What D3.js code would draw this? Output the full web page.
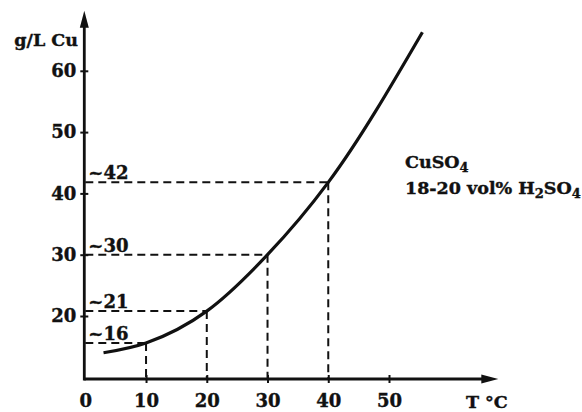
<!DOCTYPE html>
<html>
<head>
<meta charset="utf-8">
<script src="https://cdn.jsdelivr.net/npm/d3@7"></script>
<style>
  body { margin: 0; background: #fff; }
  text { font-family: "DejaVu Serif", "Liberation Serif", serif; font-weight: bold; fill: #111; stroke: #111; stroke-width: 0.4px; }
</style>
</head>
<body>
<div id="chart"></div>
<script>
// chart values
var xTicks = [0, 10, 20, 30, 40, 50];
var yTicks = [20, 30, 40, 50, 60];
var curveT = [3, 10, 20, 30, 40, 55.5];
var curveCu = [14, 15.6, 20.8, 30, 41.8, 66.3];
var markT = [10, 20, 30, 40];
var markCu = [15.6, 20.8, 30, 41.8];
var markLabels = ["~16", "~21", "~30", "~42"];

var svgWidth = 582, svgHeight = 412;

var svg = d3.select("#chart").append("svg")
  .attr("width", svgWidth)
  .attr("height", svgHeight);

// scales
var x = d3.scaleLinear().domain([0, 50]).range([85.3, 389]);
var y = d3.scaleLinear().domain([20, 60]).range([316, 70.8]);

var xAxisMax = 68;            // arrow tip of T axis
var yAxisMin = y.invert(379); // where the T axis crosses
var yAxisMax = 69.8;          // arrow tip of Cu axis

// dashed guide lines
var marks = markT.map((t, i) => ({ t: t, cu: markCu[i], label: markLabels[i] }));

svg.selectAll(".hguide").data(marks).enter().append("line")
  .attr("x1", x(0)).attr("x2", d => x(d.t))
  .attr("y1", d => y(d.cu)).attr("y2", d => y(d.cu))
  .attr("stroke", "#111").attr("stroke-width", 2)
  .attr("stroke-dasharray", "8,5");

svg.selectAll(".vguide").data(marks).enter().append("line")
  .attr("x1", d => x(d.t)).attr("x2", d => x(d.t))
  .attr("y1", d => y(d.cu)).attr("y2", y(yAxisMin))
  .attr("stroke", "#111").attr("stroke-width", 2)
  .attr("stroke-dasharray", "8,5");

svg.selectAll(".mlabel").data(marks).enter().append("text")
  .attr("x", x(0) + 3)
  .attr("y", d => y(d.cu) - 3)
  .attr("font-size", 18)
  .text(d => d.label);

// the curve
var pts = curveT.map((t, i) => [t, curveCu[i]]);
var line = d3.line()
  .x(d => x(d[0]))
  .y(d => y(d[1]))
  .curve(d3.curveMonotoneX);

svg.append("path")
  .datum(pts)
  .attr("d", line)
  .attr("fill", "none")
  .attr("stroke", "#111")
  .attr("stroke-width", 3.2);

// axes lines with arrowheads
var x0 = x(0) - 1, yBase = y(yAxisMin);
svg.append("line")
  .attr("x1", x0).attr("x2", x(xAxisMax) - 10)
  .attr("y1", yBase).attr("y2", yBase)
  .attr("stroke", "#111").attr("stroke-width", 2.8);
svg.append("line")
  .attr("x1", x0).attr("x2", x0)
  .attr("y1", yBase + 1.4).attr("y2", y(yAxisMax) + 10)
  .attr("stroke", "#111").attr("stroke-width", 2.8);

var tipX = x(xAxisMax), tipY = y(yAxisMax);
svg.append("path")
  .attr("d", `M${tipX},${yBase} L${tipX - 17},${yBase - 4.5} L${tipX - 17},${yBase + 4.5} Z`)
  .attr("fill", "#111");
svg.append("path")
  .attr("d", `M${x0},${tipY} L${x0 - 4.5},${tipY + 17} L${x0 + 4.5},${tipY + 17} Z`)
  .attr("fill", "#111");

// tick marks (small crosses) and labels
var leftAxis = d3.axisLeft(y).tickValues(yTicks).tickSize(4).tickPadding(4);
var gy = svg.append("g")
  .attr("transform", `translate(${x0},0)`)
  .call(leftAxis);
gy.select(".domain").remove();
gy.selectAll("line").attr("x1", 4).attr("stroke", "#111").attr("stroke-width", 2);
gy.selectAll("text").attr("font-size", 18);
gy.attr("font-family", null).attr("font-size", null);

var bottomAxis = d3.axisBottom(x).tickValues(xTicks).tickSize(4).tickPadding(11);
var gx = svg.append("g")
  .attr("transform", `translate(0,${yBase})`)
  .call(bottomAxis);
gx.select(".domain").remove();
gx.selectAll("line").attr("y1", -4).attr("stroke", "#111").attr("stroke-width", 2)
  .filter(d => d === 0).remove();
gx.selectAll("text").attr("font-size", 18);
gx.attr("font-family", null).attr("font-size", null);

// axis titles
svg.append("text")
  .attr("x", 78).attr("y", 46)
  .attr("text-anchor", "end")
  .attr("font-size", 17.5)
  .text("g/L Cu");

svg.append("text")
  .attr("x", 466).attr("y", 408)
  .attr("font-size", 17.5)
  .text("T °C");

// legend note
var note1 = svg.append("text")
  .attr("x", 405).attr("y", 168)
  .attr("font-size", 17.5);
note1.append("tspan").text("CuSO");
note1.append("tspan").attr("font-size", 13).attr("dy", 4).text("4");

var note2 = svg.append("text")
  .attr("x", 405).attr("y", 194)
  .attr("font-size", 17.5);
note2.append("tspan").text("18-20 vol% H");
note2.append("tspan").attr("font-size", 13).attr("dy", 4).text("2");
note2.append("tspan").attr("dy", -4).text("SO");
note2.append("tspan").attr("font-size", 13).attr("dy", 4).text("4");
</script>
</body>
</html>
